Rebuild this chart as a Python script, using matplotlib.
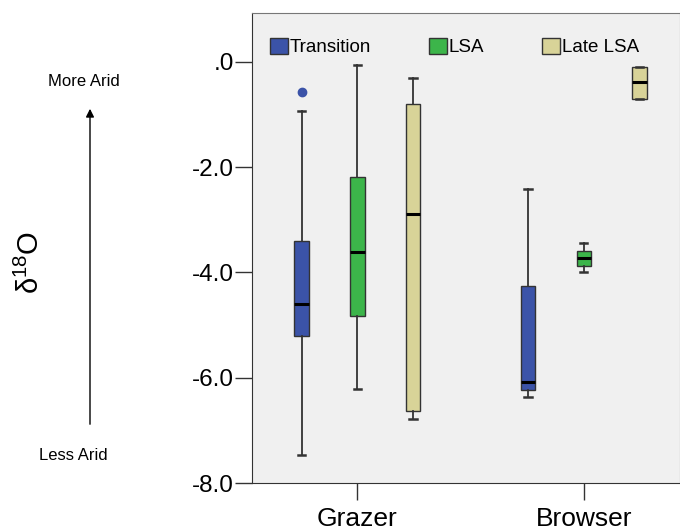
import matplotlib
matplotlib.use("Agg")
import matplotlib.pyplot as plt
from matplotlib.patches import Patch

plt.rcParams['font.family'] = ['Liberation Sans', 'DejaVu Sans']
plt.rcParams['mathtext.fontset'] = 'custom'
plt.rcParams['mathtext.rm'] = 'Liberation Sans'

# data (whislo, q1, med, q3, whishi)
categories = ['Grazer', 'Browser']
groups = ['Transition', 'LSA', 'Late LSA']
colors = ['#3b53a8', '#3cb54a', '#d8d398']

transition_stats = [[-7.47, -5.20, -4.60, -3.41, -0.94],
                    [-6.37, -6.23, -6.09, -4.25, -2.41]]
lsa_stats = [[-6.22, -4.83, -3.62, -2.19, -0.05],
             [-3.99, -3.87, -3.72, -3.59, -3.44]]
late_lsa_stats = [[-6.78, -6.64, -2.89, -0.79, -0.31],
                  [-0.70, -0.70, -0.39, -0.09, -0.09]]
transition_fliers = [[-0.58], []]

all_stats = [transition_stats, lsa_stats, late_lsa_stats]
all_fliers = [transition_fliers, [[], []], [[], []]]

fig = plt.figure(figsize=(6.8, 5.31), dpi=100)
ax = fig.add_axes([252/680, 48/531, 1 - 252/680, (483-13)/531])
ax.set_facecolor('#f0f0f0')

offset = 0.246
width = 0.064
for g, (stats, fl, col) in enumerate(zip(all_stats, all_fliers, colors)):
    bx = []
    for c in range(len(categories)):
        lo, q1, med, q3, hi = stats[c]
        bx.append(dict(whislo=lo, q1=q1, med=med, q3=q3, whishi=hi, fliers=fl[c]))
    pos = [c + (g - 1) * offset for c in range(len(categories))]
    ax.bxp(bx, positions=pos, widths=width, patch_artist=True, showfliers=True,
           boxprops=dict(facecolor=col, edgecolor='#333333', linewidth=1.0),
           medianprops=dict(color='black', linewidth=2.2),
           whiskerprops=dict(color='#333333', linewidth=1.3),
           capprops=dict(color='#333333', linewidth=1.8),
           flierprops=dict(marker='o', markerfacecolor=col, markeredgecolor=col,
                           markersize=6))

ax.set_xlim(-0.465, 1.425)
ax.set_ylim(-8.0, 0.93)
ax.set_yticks([0, -2, -4, -6, -8])
ax.set_yticklabels(['.0', '-2.0', '-4.0', '-6.0', '-8.0'], fontsize=17.5)
ax.set_xticks(range(len(categories)))
ax.set_xticklabels(categories, fontsize=19)
ax.tick_params(axis='both', direction='out', length=12, width=1.0, color='#333333')
ax.tick_params(axis='y', pad=1)
ax.tick_params(axis='x', pad=5)
for s in ['top', 'right']:
    ax.spines[s].set_color('#777777')
for s in ['left', 'bottom']:
    ax.spines[s].set_color('#333333')

handles = [Patch(facecolor=c, edgecolor='#333333', label=l) for c, l in zip(colors, groups)]
leg = ax.legend(handles=handles, ncol=3, loc='upper left', bbox_to_anchor=(266/680, 1 - 34/531),
                bbox_transform=fig.transFigure, frameon=False, fontsize=13.5,
                handlelength=0.95, handleheight=0.95, handletextpad=0.1,
                columnspacing=3.1, borderaxespad=0, borderpad=0.2)

fig.text(30/680, 1 - 262/531, r'$\mathrm{δ^{18}O}$', rotation=90, fontsize=21,
         ha='center', va='center')
ax.annotate('', xy=(90/680, 1 - 106/531), xytext=(90/680, 1 - 427/531),
            xycoords='figure fraction', textcoords='figure fraction',
            arrowprops=dict(arrowstyle='-|>', color='black', lw=1.0, mutation_scale=12))
fig.text(84/680, 1 - 81/531, 'More Arid', fontsize=12, ha='center', va='center')
fig.text(73/680, 1 - 455/531, 'Less Arid', fontsize=12, ha='center', va='center')

fig.savefig('out.png', dpi=100)
